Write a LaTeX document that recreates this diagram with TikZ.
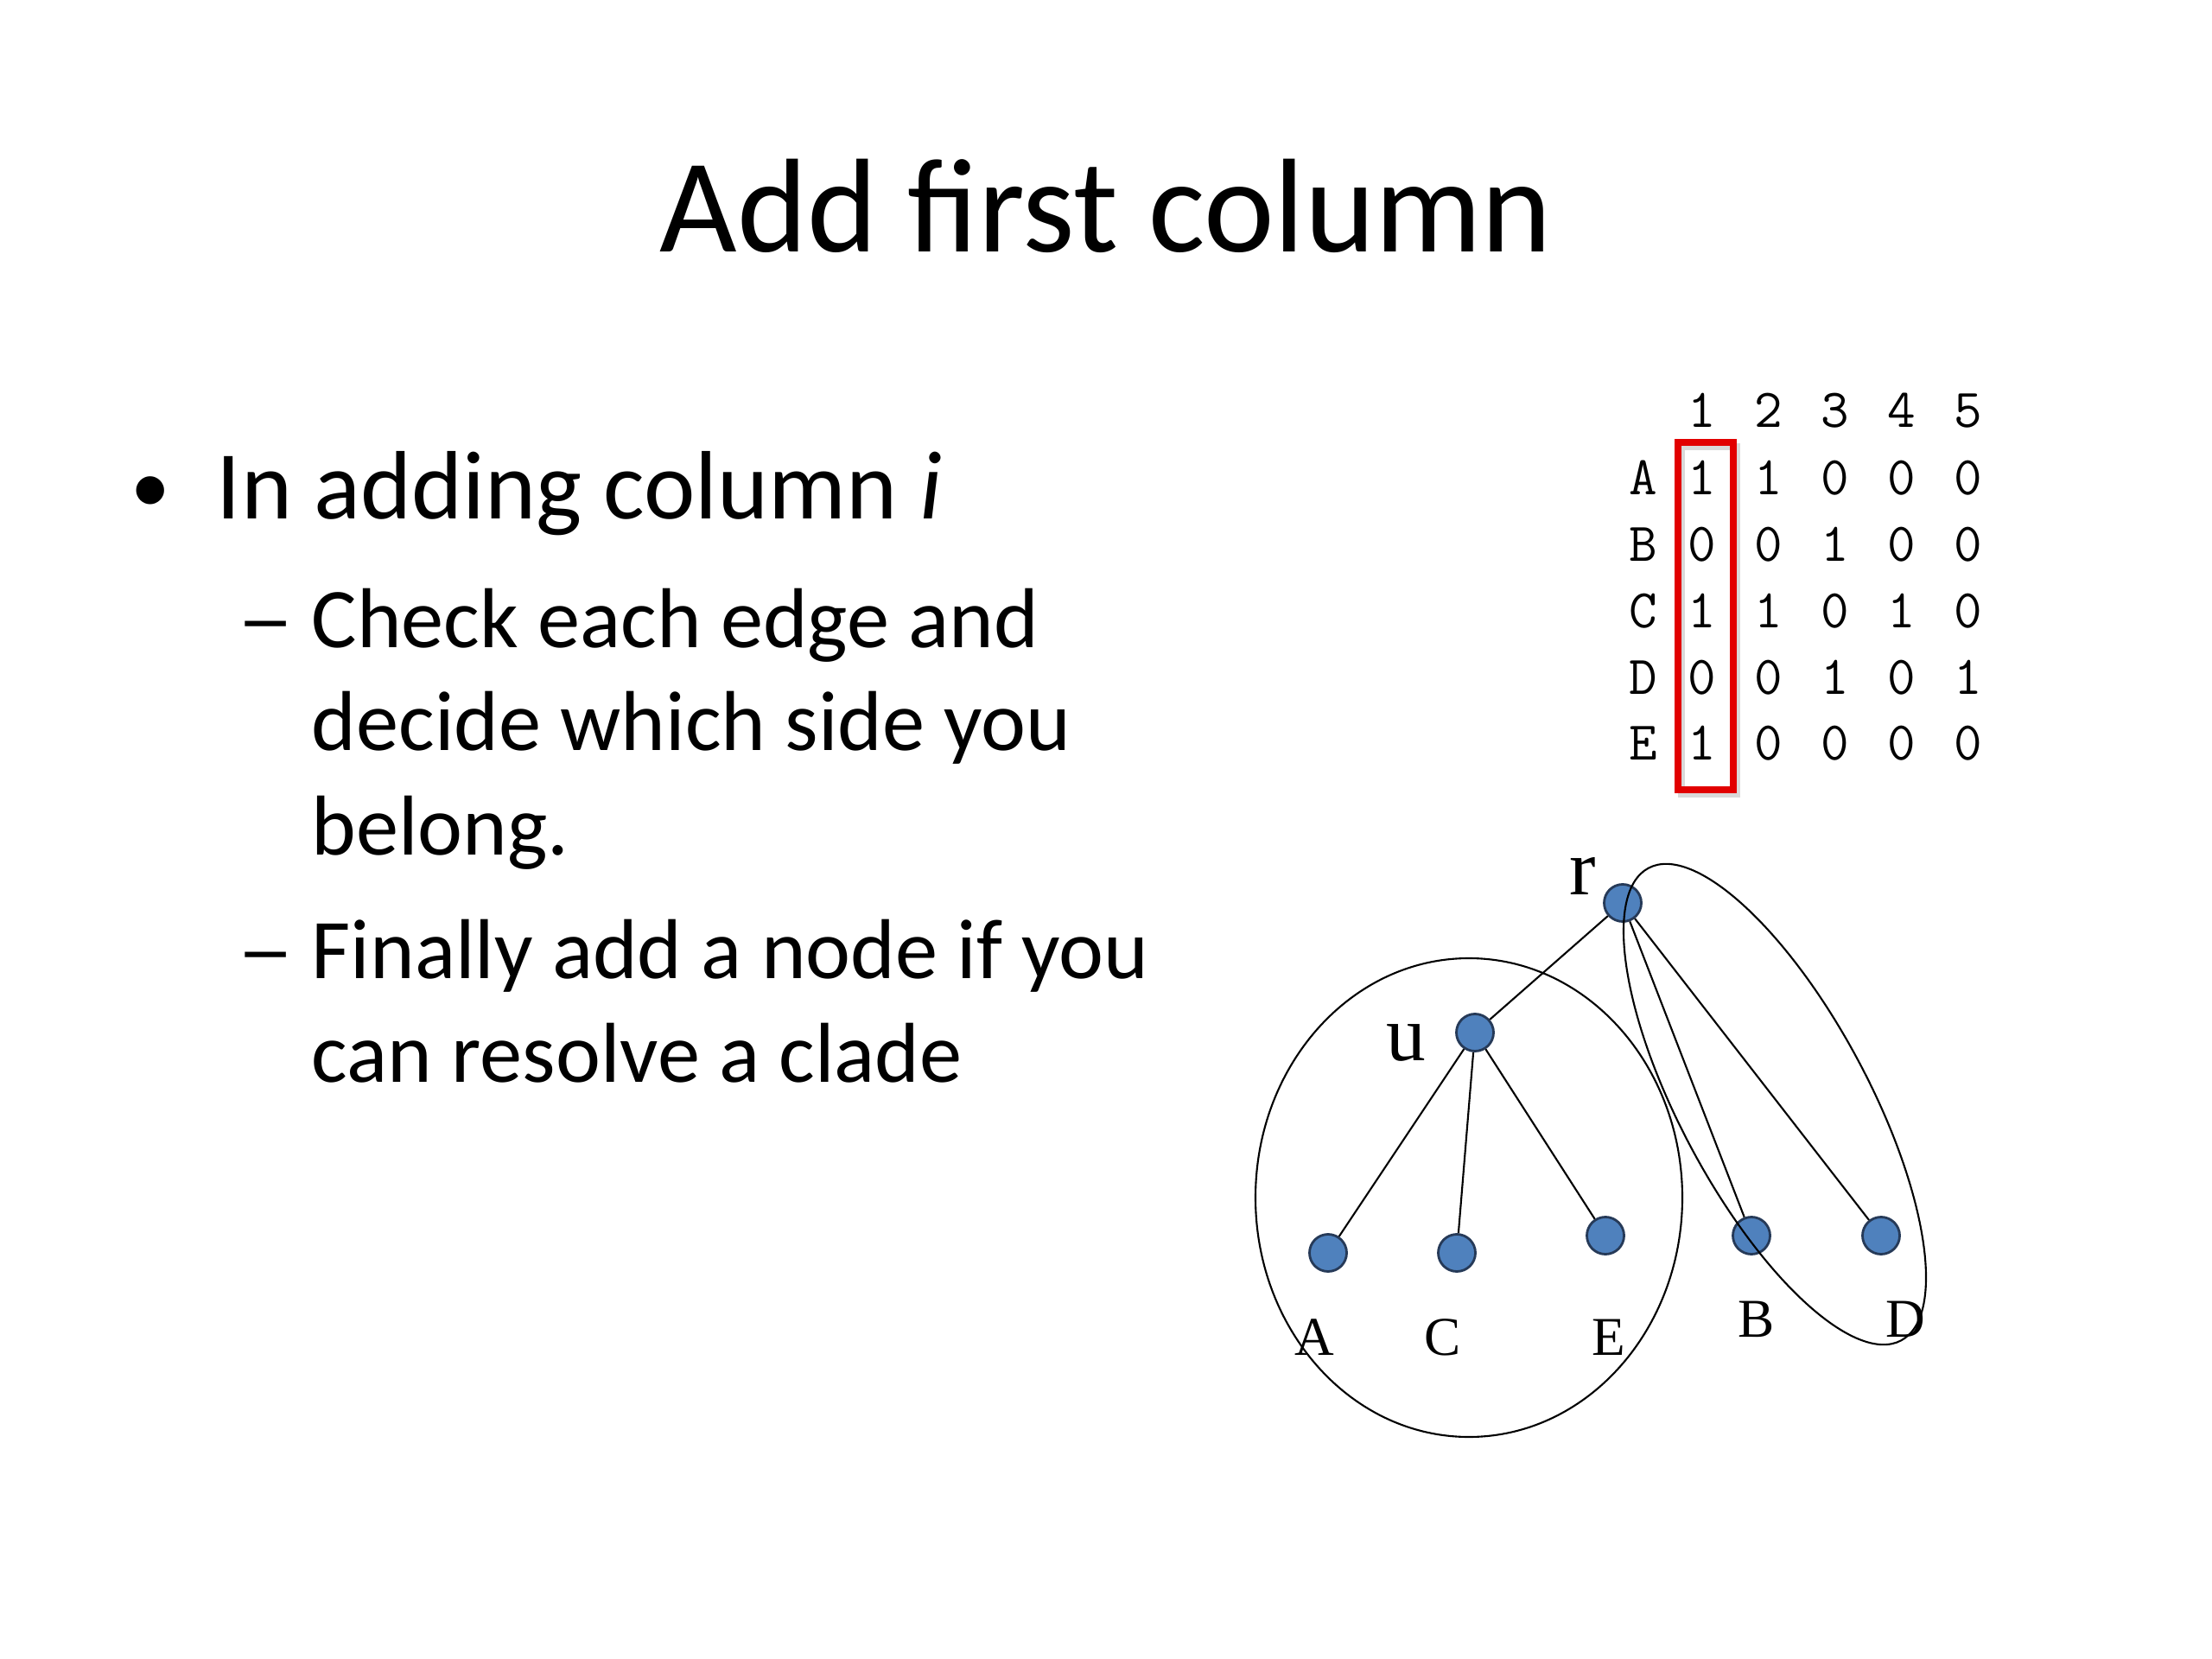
\documentclass[tikz,border=0pt]{standalone}
\usepackage{fontspec}
\setmainfont{Carlito}
\newfontfamily\treefont{Liberation Serif}
\newcommand\matfont{\ttfamily\fontsize{18}{18}\selectfont\spaceskip=.70em\relax}
\usepackage{tikz}
\definecolor{vtxfill}{RGB}{79,129,189}
\definecolor{vtxline}{RGB}{38,58,88}
\definecolor{boxred}{RGB}{226,0,0}
\tikzset{vertex/.style={circle, draw=vtxline, fill=vtxfill, line width=.8pt, inner sep=0pt, minimum size=0.43cm},
    leaflbl/.style={inner sep=0pt, anchor=base, font=\treefont\fontsize{18}{18}\selectfont},
    rootlbl/.style={inner sep=0pt, anchor=base, font=\treefont\fontsize{26}{26}\selectfont},
    matrow/.style={inner sep=0pt, anchor=base west, font=\matfont},
    matlbl/.style={inner sep=0pt, anchor=base, font=\matfont},
    bodyline/.style={inner sep=0pt, anchor=base west, font=\fontsize{28}{34}\selectfont},
    subdash/.style={inner sep=0pt, anchor=base, xscale=1.35, transform shape, font=\fontsize{28}{34}\selectfont},
    branch/.style={line width=.6pt}}

\begin{document}
\begin{tikzpicture}
                 \fill[white] (0,0) rectangle (25.6,-19.2);
                 \useasboundingbox (0,0) rectangle (25.6,-19.2);

                 \node[inner sep=0pt, anchor=base, font=\fontsize{44}{53}\selectfont] (title) at (12.80,-2.92) {Add first column};

                 \node[inner sep=0pt, anchor=base, font=\fontsize{26}{32}\selectfont] (bul) at (1.74,-5.94) {•};
                 \node[inner sep=0pt, anchor=base west, font=\fontsize{32}{38}\selectfont] (lvlone) at (2.50,-6.01) {In adding column \textit{i}};
                  \node[subdash] (dashA) at (3.08,-7.49) {–};
                  \node[bodyline] (checkA) at (3.60,-7.49) {Check each edge and};
                  \node[bodyline] (checkB) at (3.60,-8.68) {decide which side you};
                  \node[bodyline] (checkC) at (3.60,-9.89) {belong.};
                  \node[subdash] (dashB) at (3.08,-11.32) {–};
                  \node[bodyline] (finA) at (3.60,-11.32) {Finally add a node if you};
                  \node[bodyline] (finB) at (3.60,-12.52) {can resolve a clade};

%                 \draw (19.38,-5.08) rectangle (20.10,-9.18);
                 \draw[black!15, line width=2.3pt] (19.46,-5.17) rectangle (20.10,-9.19);
                 \draw[boxred, line width=2.3pt] (19.42,-5.12) rectangle (20.06,-9.14);
                  \node[matrow] (hdr) at (19.53,-4.95) {1 2 3 4 5};
                  \node[matrow] (rowA) at (19.53,-5.72) {1 1 0 0 0};
                  \node[matrow] (rowB) at (19.53,-6.49) {0 0 1 0 0};
                  \node[matrow] (rowC) at (19.53,-7.26) {1 1 0 1 0};
                  \node[matrow] (rowD) at (19.53,-8.03) {0 0 1 0 1};
                  \node[matrow] (rowE) at (19.53,-8.79) {1 0 0 0 0};
                  \node[matlbl] (labA) at (19.02,-5.72) {A};
                  \node[matlbl] (labB) at (19.02,-6.49) {B};
                  \node[matlbl] (labC) at (19.02,-7.26) {C};
                  \node[matlbl] (labD) at (19.02,-8.03) {D};
                  \node[matlbl] (labE) at (19.02,-8.79) {E};

                 \node[vertex] (r) at (18.78,-10.45) {};
                 \node[vertex] (u) at (17.07,-11.95) {};
                 \node[vertex] (A) at (15.37,-14.50) {};
                 \node[vertex] (C) at (16.86,-14.50) {};
                 \node[vertex] (E) at (18.58,-14.30) {};
                 \node[vertex] (B) at (20.27,-14.30) {};
                 \node[vertex] (D) at (21.77,-14.30) {};

                 \node[rootlbl] (rlbl) at (18.32,-10.35) {r};
                 \node[rootlbl] (ulbl) at (16.27,-12.27) {u};
                 \node[leaflbl] (Albl) at (15.21,-15.68) {A};
                 \node[leaflbl] (Clbl) at (16.70,-15.68) {C};
                 \node[leaflbl] (Elbl) at (18.62,-15.68) {E};
                 \node[leaflbl] (Blbl) at (20.33,-15.47) {B};
                 \node[leaflbl] (Dlbl) at (22.05,-15.47) {D};

                  \draw[branch] (r) -- (u);
                  \draw[branch] (u) -- (A);
                  \draw[branch] (u) -- (C);
                  \draw[branch] (u) -- (E);
                  \draw[branch] (r) -- (B);
                  \draw[branch] (r) -- (D);

                   \draw[branch] (17.00,-13.86) ellipse (2.47 and 2.77);
                   \draw[branch, rotate around={28.15:(20.54,-12.78)}] (20.54,-12.78) ellipse (1.09 and 3.10);

                 \end{tikzpicture}
\end{document}
